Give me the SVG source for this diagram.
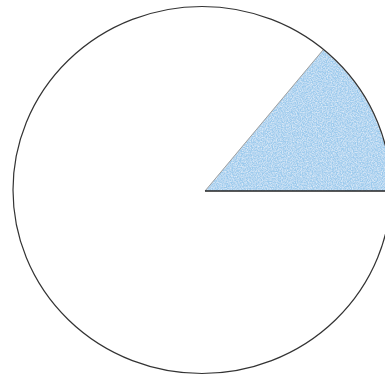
<svg xmlns="http://www.w3.org/2000/svg" width="385" height="377" viewBox="0 0 385 377">
  <defs>
    <filter id="crayon" x="0" y="0" width="1" height="1">
      <feTurbulence type="fractalNoise" baseFrequency="0.8" numOctaves="3" seed="5" result="noise"/>
      <feColorMatrix in="noise" type="matrix" values="0 0 0 0 1  0 0 0 0 1  0 0 0 0 1  0 0 0 1.1 -0.35" result="speck"/>
      <feComposite in="speck" in2="SourceGraphic" operator="in" result="speckIn"/>
      <feMerge>
        <feMergeNode in="SourceGraphic"/>
        <feMergeNode in="speckIn"/>
      </feMerge>
    </filter>
  </defs>
  <style>
    .outline { fill: none; stroke: #333; stroke-width: 1.2; }
    .sector { fill: #9ccaed; }
    .edge-soft { stroke: #a0a0a0; stroke-width: 1; fill: none; }
    .edge-hard { stroke: #222; stroke-width: 1.6; fill: none; }
  </style>
  <rect width="385" height="377" fill="#ffffff"/>
  <g id="sector">
    <path class="sector" filter="url(#crayon)" d="M205,191 L323,50 A189,183.5 0 0 1 391,191 Z"/>
  </g>
  <g id="circle">
    <ellipse class="outline" cx="202" cy="190" rx="189" ry="183.5"/>
  </g>
  <g id="connectors">
    <line class="edge-soft" x1="205" y1="191" x2="323" y2="50"/>
    <line class="edge-hard" x1="205" y1="191" x2="391" y2="191"/>
  </g>
</svg>
